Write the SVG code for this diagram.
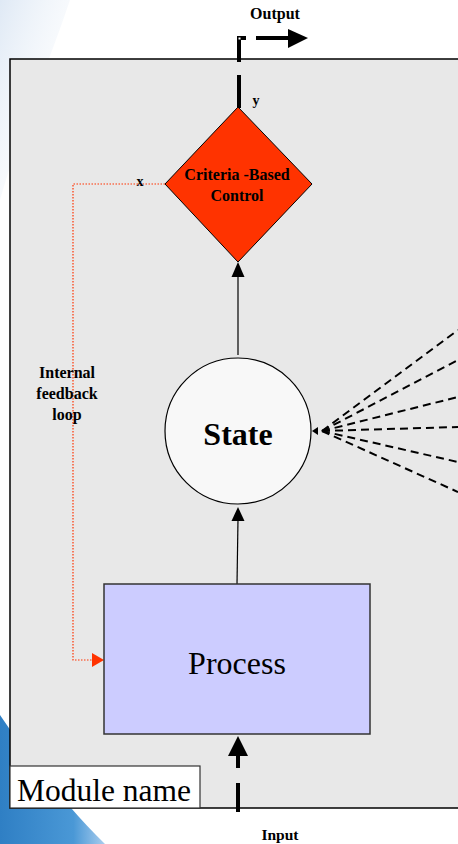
<svg xmlns="http://www.w3.org/2000/svg" width="458" height="844" viewBox="0 0 458 844">
<style>
.lbl{font-family:"Liberation Serif","Times New Roman",serif;font-weight:bold;fill:#000}
.big{font-family:"Liberation Serif","Times New Roman",serif;fill:#000}
.thin{stroke:#000;stroke-width:1.2;fill:none}
.thick{stroke:#000;stroke-width:4;fill:none}
.fan{stroke:#000;stroke-width:2;stroke-dasharray:8,5;fill:none}
.fb{stroke:#ff3300;stroke-width:1.2;stroke-dasharray:1.5,1.5;fill:none}
</style>
<defs>
<linearGradient id="tl" x1="0" y1="0" x2="1" y2="1">
<stop offset="0" stop-color="#dfe9f5"/>
<stop offset="1" stop-color="#ffffff" stop-opacity="0"/>
</linearGradient>
<linearGradient id="bl" x1="0" y1="0" x2="1" y2="0">
<stop offset="0" stop-color="#2f7fc4"/>
<stop offset="0.7" stop-color="#4a98d6"/>
<stop offset="1" stop-color="#a9cdee"/>
</linearGradient>
</defs>
<rect x="0" y="0" width="458" height="844" fill="#fff"/>
<path d="M0,0 L70,0 C50,60 20,130 0,200 Z" fill="url(#tl)"/>
<path d="M0,715 C30,760 70,810 105,844 L0,844 Z" fill="url(#bl)"/>
<g id="module">
<rect x="10" y="59" width="452" height="749" fill="#e8e8e8" stroke="#000" stroke-width="1.5"/>
</g>
<g id="module-name">
<rect x="10" y="766" width="190" height="42" fill="#fff" stroke="#333" stroke-width="1.2"/>
<text class="big" x="17" y="801" font-size="31.5">Module name</text>
</g>
<g id="connectors">
<line class="thin" x1="238" y1="355" x2="238" y2="275"/>
<polygon points="238,262 231.5,277 244.5,277" fill="#000"/>
<line class="thin" x1="237" y1="584" x2="238" y2="519"/>
<polygon points="238,507 231.5,521 244.5,521" fill="#000"/>
<line class="thick" x1="238" y1="812" x2="238" y2="783"/>
<line class="thick" x1="238" y1="768" x2="238" y2="754"/>
<polygon points="238,736 228,756 248,756" fill="#000"/>
<line class="thick" x1="239" y1="108" x2="239" y2="75"/>
<polyline class="thick" points="239,62 239,38 246,38"/>
<rect x="238.5" y="37.5" width="2" height="2" fill="#fff"/>
<line class="thick" x1="256" y1="38" x2="290" y2="38"/>
<polygon points="308,38 288,29 288,48" fill="#000"/>
<polyline class="fb" points="165,184 73,184 73,660 93,660"/>
<polygon points="104,660 92,653 92,667" fill="#ff3300"/>
<polygon points="312,431 318,427 318,435" fill="#000"/>
<line class="fan" x1="322" y1="431" x2="458" y2="330"/>
<line class="fan" x1="322" y1="431" x2="458" y2="360"/>
<line class="fan" x1="322" y1="431" x2="458" y2="397"/>
<line class="fan" x1="322" y1="431" x2="458" y2="427"/>
<line class="fan" x1="322" y1="431" x2="458" y2="462"/>
<line class="fan" x1="322" y1="431" x2="458" y2="492"/>
</g>
<g id="control">
<polygon points="238,107 312,184 238,262 165,184" fill="#ff3300" stroke="#000" stroke-width="1"/>
<text class="lbl" x="237" y="180" font-size="16" text-anchor="middle">Criteria -Based</text>
<text class="lbl" x="237" y="201" font-size="16" text-anchor="middle">Control</text>
</g>
<g id="state">
<circle cx="238" cy="431" r="73" fill="#f8f8f8" stroke="#000" stroke-width="1.2"/>
<text class="lbl" x="238" y="445" font-size="32" text-anchor="middle">State</text>
</g>
<g id="process">
<rect x="104" y="584" width="266" height="150" fill="#ccccff" stroke="#333" stroke-width="1.5"/>
<text class="big" x="237" y="674" font-size="32" text-anchor="middle">Process</text>
</g>
<g id="labels">
<text class="lbl" x="275" y="19" font-size="16" text-anchor="middle">Output</text>
<text class="lbl" x="280" y="840" font-size="15.5" text-anchor="middle">Input</text>
<text class="lbl" x="256" y="105" font-size="14" text-anchor="middle">y</text>
<text class="lbl" x="140" y="186" font-size="14" text-anchor="middle">x</text>
<text class="lbl" x="67" y="378" font-size="16" text-anchor="middle">Internal</text>
<text class="lbl" x="67" y="399" font-size="16" text-anchor="middle">feedback</text>
<text class="lbl" x="67" y="420" font-size="16" text-anchor="middle">loop</text>
</g>
</svg>
